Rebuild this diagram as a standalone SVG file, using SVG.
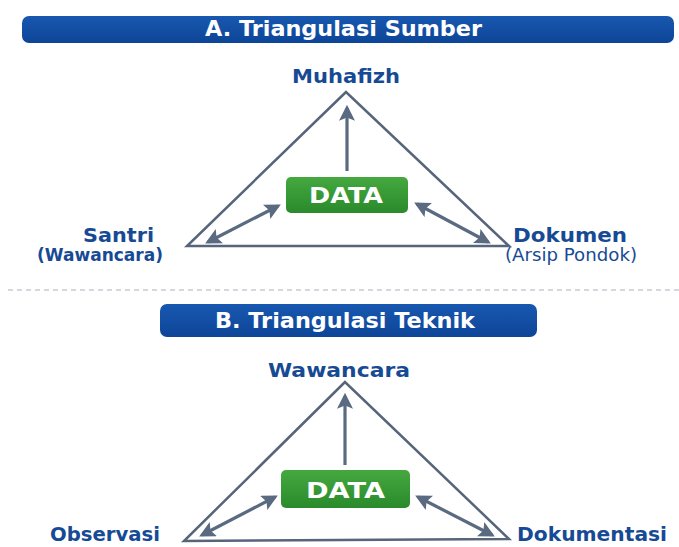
<svg xmlns="http://www.w3.org/2000/svg" width="679" height="547" viewBox="0 0 679 547">
<defs>
<linearGradient id="g" x1="0" y1="0" x2="0" y2="1">
<stop offset="0" stop-color="#45a83f"/>
<stop offset="1" stop-color="#2a8a2c"/>
</linearGradient>
<linearGradient id="b" x1="0" y1="0" x2="0" y2="1">
<stop offset="0" stop-color="#1858b0"/>
<stop offset="1" stop-color="#0d4597"/>
</linearGradient>
<marker id="ah" viewBox="0 0 10 10" refX="8" refY="5" markerWidth="5" markerHeight="5" orient="auto-start-reverse" markerUnits="strokeWidth">
<path d="M0,0 L10,5 L0,10 L2,5 Z" fill="#5a6a80"/>
</marker>
<style>
.banner{fill:url(#b)}
.bt{font-family:"DejaVu Sans","Open Sans",sans-serif;font-weight:700;font-size:21px;fill:#fff}
.tri{fill:none;stroke:#56657a;stroke-width:2.5;stroke-linejoin:miter}
.arr{stroke:#5a6a80;stroke-width:3.2;fill:none}
.box{fill:url(#g)}
.dt{font-family:"DejaVu Sans","Open Sans",sans-serif;font-weight:700;font-size:22px;fill:#fff}
.lb{font-family:"DejaVu Sans","Open Sans",sans-serif;font-weight:700;font-size:20px;fill:#174a94}
.sb{font-family:"DejaVu Sans","Open Sans",sans-serif;font-weight:700;font-size:17px;fill:#174a94}
.sr{font-family:"DejaVu Sans","Open Sans",sans-serif;font-weight:400;font-size:17px;fill:#174a94}
</style>
</defs>
<rect width="679" height="547" fill="#fff"/>

<g id="bannerA">
<rect class="banner" x="22" y="16" width="652" height="27" rx="7"/>
<text class="bt" x="205" y="36" textLength="277" lengthAdjust="spacingAndGlyphs">A. Triangulasi Sumber</text>
</g>

<g id="triangleA">
<polygon class="tri" points="346,92 187,246 509,246"/>
</g>

<g id="dataA">
<rect class="box" x="286" y="177" width="122" height="36" rx="5"/>
<text class="dt" x="309" y="203" textLength="74" lengthAdjust="spacingAndGlyphs">DATA</text>
</g>

<g id="muhafizh"><text class="lb" x="292" y="83" textLength="108" lengthAdjust="spacingAndGlyphs">Muhafizh</text></g>
<g id="santri">
<text class="lb" x="83" y="242" textLength="71" lengthAdjust="spacingAndGlyphs">Santri</text>
<text class="sb" x="37" y="261" textLength="126" lengthAdjust="spacingAndGlyphs">(Wawancara)</text>
</g>
<g id="dokumen">
<text class="lb" x="513" y="242" textLength="114" lengthAdjust="spacingAndGlyphs">Dokumen</text>
<text class="sr" x="505" y="261" textLength="132" lengthAdjust="spacingAndGlyphs">(Arsip Pondok)</text>
</g>

<g id="connectorsA">
<line class="arr" x1="347" y1="171" x2="347" y2="108" marker-end="url(#ah)"/>
<line class="arr" x1="278" y1="206" x2="208" y2="242" marker-start="url(#ah)" marker-end="url(#ah)"/>
<line class="arr" x1="417" y1="204" x2="488" y2="242" marker-start="url(#ah)" marker-end="url(#ah)"/>
</g>

<line x1="8" y1="290" x2="679" y2="290" stroke="#c8ccd2" stroke-width="1.5" stroke-dasharray="5,4"/>

<g id="bannerB">
<rect class="banner" x="160" y="304" width="377" height="33" rx="7"/>
<text class="bt" x="215" y="328" textLength="260" lengthAdjust="spacingAndGlyphs">B. Triangulasi Teknik</text>
</g>

<g id="triangleB">
<polygon class="tri" points="345,382 184,541 509,539"/>
</g>

<g id="dataB">
<rect class="box" x="281" y="470" width="129" height="38" rx="5"/>
<text class="dt" x="306" y="498" textLength="79" lengthAdjust="spacingAndGlyphs">DATA</text>
</g>

<g id="wawancara"><text class="lb" x="268" y="377" textLength="142" lengthAdjust="spacingAndGlyphs">Wawancara</text></g>
<g id="observasi"><text class="lb" x="50" y="541" textLength="110" lengthAdjust="spacingAndGlyphs">Observasi</text></g>
<g id="dokumentasi"><text class="lb" x="517" y="541" textLength="150" lengthAdjust="spacingAndGlyphs">Dokumentasi</text></g>

<g id="connectorsB">
<line class="arr" x1="345" y1="465" x2="345" y2="396" marker-end="url(#ah)"/>
<line class="arr" x1="275" y1="497" x2="202" y2="535" marker-start="url(#ah)" marker-end="url(#ah)"/>
<line class="arr" x1="418" y1="497" x2="492" y2="535" marker-start="url(#ah)" marker-end="url(#ah)"/>
</g>
</svg>
